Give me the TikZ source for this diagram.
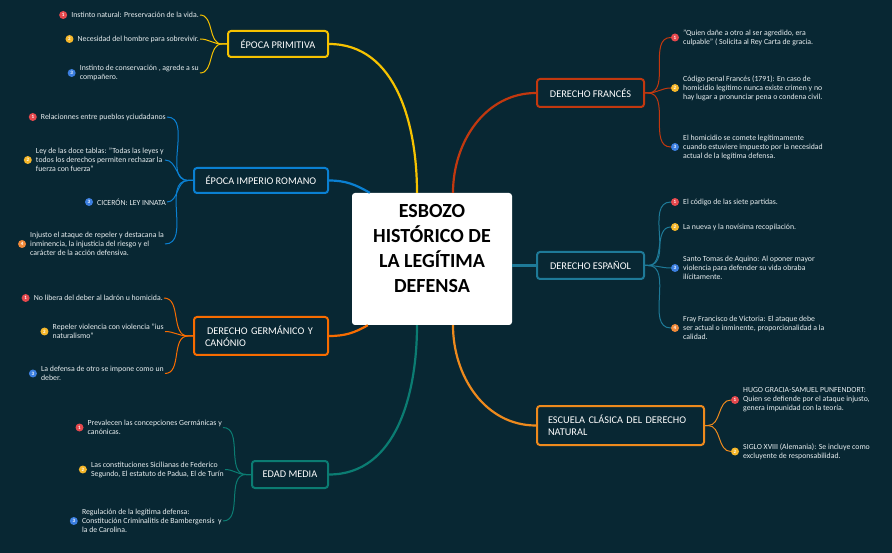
\documentclass[tikz,border=0pt]{standalone}
\usepackage{fontspec}
\setmainfont{Carlito}
\definecolor{bg}{HTML}{082733}
\definecolor{txt}{HTML}{E8EEF0}
\definecolor{cY}{HTML}{F6C200}
\definecolor{cB}{HTML}{0A80D2}
\definecolor{cO}{HTML}{F86C00}
\definecolor{cT}{HTML}{0B7C72}
\definecolor{cR}{HTML}{C2380F}
\definecolor{cE}{HTML}{1E7A98}
\definecolor{cK}{HTML}{EE8A1D}
\definecolor{bR}{HTML}{E5484D}
\definecolor{bY}{HTML}{F5B72A}
\definecolor{bB}{HTML}{3C7FE0}
\definecolor{bO}{HTML}{F08A3A}
\tikzset{
  br/.style={draw=#1, line width=2pt, fill=bg, rounded corners=3pt, text=white,
    font=\fontsize{10.3}{12}\selectfont, inner sep=0pt},
  leaf/.style={inner sep=1pt, text=txt, font=\fontsize{7.8}{9}\selectfont, align=left},
  bul/.style={circle, fill=#1, inner sep=0pt, minimum size=8pt, text=white,
    font=\fontsize{5}{5}\selectfont\bfseries},
  mainln/.style={draw=#1, line width=2.2pt},
  leafln/.style={draw=#1, line width=1pt},
}
\begin{document}
\begin{tikzpicture}[x=1pt,y=-1pt]
\useasboundingbox[fill=bg] (0,0) rectangle (892,553);

% center
\node[fill=white, rounded corners=3pt, minimum width=160pt, minimum height=132pt, inner sep=0pt] (c) at (432,259) {};
\node[align=center, font=\bfseries\fontsize{20}{25}\selectfont, inner sep=0pt] (ct) at (432,249) {ESBOZO\\HISTÓRICO DE\\LA LEGÍTIMA\\ DEFENSA};

% branch nodes
\node[br=cY, minimum width=100pt, minimum height=26pt] (pp) at (278,44) {ÉPOCA PRIMITIVA};
\node[br=cB, minimum width=134pt, minimum height=25pt] (rom) at (261,180.5) {ÉPOCA IMPERIO ROMANO};
\node[br=cO, minimum width=134pt, minimum height=38pt, text width=112pt, align=left] (ger) at (261,336) {\hspace{2pt}DERECHO GERMÁNICO Y\\CANÓNIO};
\node[br=cT, minimum width=76pt, minimum height=27pt] (ed) at (290,474.5) {EDAD MEDIA};
\node[br=cR, minimum width=107pt, minimum height=28pt] (fr) at (590.5,93) {DERECHO FRANCÉS};
\node[br=cE, minimum width=107pt, minimum height=27pt] (es) at (590.5,265.5) {DERECHO ESPAÑOL};
\node[br=cK, minimum width=167pt, minimum height=39pt, text width=145pt, align=left] (esc) at (620.5,425.5) {ESCUELA CLÁSICA DEL DERECHO\\NATURAL};

% main connectors
\draw[mainln=cY] (pp.east) to[out=0,in=90] ([xshift=-15pt]c.north);
\draw[mainln=cR] ([xshift=21pt]c.north) to[out=90,in=180] (fr.west);
\draw[mainln=cB] (rom.east) to[out=0,in=150] ([xshift=18pt]c.north west);
\draw[mainln=cO] (ger.east) to[out=0,in=-150] ([xshift=16pt]c.south west);
\draw[mainln=cT] (ed.east) to[out=0,in=-90] ([xshift=-15pt]c.south);
\draw[mainln=cK] ([xshift=21pt]c.south) to[out=-90,in=180] (esc.west);
\draw[mainln=cE] (es.west) -- (es.west -| c.east);

% junctions
\coordinate (ppj) at ([xshift=-5pt]pp.west);
\coordinate (romj) at ([xshift=-5pt]rom.west);
\coordinate (gerj) at ([xshift=-5pt]ger.west);
\coordinate (edj) at ([xshift=-5pt]ed.west);
\coordinate (frj) at ([xshift=3pt]fr.east);
\coordinate (esj) at ([xshift=3pt]es.east);
\coordinate (escj) at ([xshift=3pt]esc.east);

% ÉPOCA PRIMITIVA leaves
\node[leaf, anchor=east] (p1) at (200,15) {Instinto natural: Preservación de la vida.};
\node[leaf, anchor=east] (p2) at (200,39) {Necesidad del hombre para sobrevivir.};
\node[leaf, anchor=east] (p3) at (200,73) {Instinto de conservación , agrede a su\\compañero.};
\node[bul=bR] (p1b) at ([xshift=-7pt]p1.west) {1};
\node[bul=bY] (p2b) at ([xshift=-7pt]p2.west) {2};
\node[bul=bB] (p3b) at ([xshift=-7pt]p3.west) {3};
\foreach \n in {p1,p2,p3}{\draw[leafln=cY] (pp.west) -- (ppj) to[out=180,in=0] (\n.east);}

% ROMANO leaves
\node[leaf, anchor=east] (r1) at (167,117) {Relacionnes entre pueblos yciudadanos};
\node[leaf, anchor=east] (r2) at (165,160) {Ley de las doce tablas: "Todas las leyes y\\todos los derechos permiten rechazar la\\fuerza con fuerza"};
\node[leaf, anchor=east] (r3) at (167,202) {CICERÓN: LEY INNATA};
\node[leaf, anchor=east] (r4) at (165,244) {Injusto el ataque de repeler y destacana la\\inminencia, la injusticia del riesgo y el\\carácter de la acción defensiva.};
\node[bul=bR] (r1b) at ([xshift=-7pt]r1.west) {1};
\node[bul=bY] (r2b) at ([xshift=-7pt]r2.west) {2};
\node[bul=bB] (r3b) at ([xshift=-7pt]r3.west) {3};
\node[bul=bO] (r4b) at ([xshift=-7pt]r4.west) {4};
\foreach \n in {r1,r2,r3,r4}{\draw[leafln=cB] (rom.west) -- (romj) to[out=180,in=0] (\n.east);}

% GERMÁNICO leaves
\node[leaf, anchor=east] (g1) at (164,298) {No libera del deber al ladrón u homicida.};
\node[leaf, anchor=east] (g2) at (165,331.5) {Repeler violencia con violencia "ius\\naturalismo"};
\node[leaf, anchor=east] (g3) at (165,373.5) {La defensa de otro se impone como un\\deber.};
\node[bul=bR] (g1b) at ([xshift=-7pt]g1.west) {1};
\node[bul=bY] (g2b) at ([xshift=-7pt]g2.west) {2};
\node[bul=bB] (g3b) at ([xshift=-7pt]g3.west) {3};
\foreach \n in {g1,g2,g3}{\draw[leafln=cO] (ger.west) -- (gerj) to[out=180,in=0] (\n.east);}

% EDAD MEDIA leaves
\node[leaf, anchor=east] (e1) at (223,427.5) {Prevalecen las concepciones Germánicas y\\canónicas.};
\node[leaf, anchor=east] (e2) at (225,469.5) {Las constituciones Sicilianas de Federico\\Segundo, El estatuto de Padua, El de Turín};
\node[leaf, anchor=east] (e3) at (223,521) {Regulación de la legítima defensa:\\Constitución Criminalitis de Bambergensis\ \ y\\la de Carolina.};
\node[bul=bR] (e1b) at ([xshift=-7pt]e1.west) {1};
\node[bul=bY] (e2b) at ([xshift=-7pt]e2.west) {2};
\node[bul=bB] (e3b) at ([xshift=-7pt]e3.west) {3};
\foreach \n in {e1,e2,e3}{\draw[leafln=cT] (ed.west) -- (edj) to[out=180,in=0] (\n.east);}

% FRANCÉS leaves
\node[leaf, anchor=west] (f1) at (682,37.5) {"Quien dañe a otro al ser agredido, era\\culpable" ( Solicita al Rey Carta de gracia.};
\node[leaf, anchor=west] (f2) at (682,88) {Código penal Francés (1791): En caso de\\homicidio legítimo nunca existe crimen y no\\hay lugar a pronunciar pena o condena civil.};
\node[leaf, anchor=west] (f3) at (682,147) {El homicidio se comete legítimamente\\cuando estuviere impuesto por la necesidad\\actual de la legítima defensa.};
\node[bul=bR] (f1b) at ([xshift=-7pt]f1.west) {1};
\node[bul=bY] (f2b) at ([xshift=-7pt]f2.west) {2};
\node[bul=bB] (f3b) at ([xshift=-7pt]f3.west) {3};
\foreach \n in {f1b,f2b,f3b}{\draw[leafln=cR] (fr.east) -- (frj) to[out=0,in=180] (\n.west);}

% ESPAÑOL leaves
\node[leaf, anchor=west] (s1) at (682,202) {El código de las siete partidas.};
\node[leaf, anchor=west] (s2) at (682,227) {La nueva y la novísima recopilación.};
\node[leaf, anchor=west] (s3) at (682,268) {Santo Tomas de Aquino: Al oponer mayor\\violencia para defender su vida obraba\\ilícitamente.};
\node[leaf, anchor=west] (s4) at (682,328) {Fray Francisco de Victoria: El ataque debe\\ser actual o inminente, proporcionalidad a la\\calidad.};
\node[bul=bR] (s1b) at ([xshift=-7pt]s1.west) {1};
\node[bul=bY] (s2b) at ([xshift=-7pt]s2.west) {2};
\node[bul=bB] (s3b) at ([xshift=-7pt]s3.west) {3};
\node[bul=bO] (s4b) at ([xshift=-7pt]s4.west) {4};
\foreach \n in {s1b,s2b,s3b,s4b}{\draw[leafln=cE] (es.east) -- (esj) to[out=0,in=180] (\n.west);}

% ESCUELA leaves
\node[leaf, anchor=west] (k1) at (742,400) {HUGO GRACIA-SAMUEL PUNFENDORT:\\Quien se defiende por el ataque injusto,\\genera impunidad con la teoría.};
\node[leaf, anchor=west] (k2) at (742,451.5) {SIGLO XVIII (Alemania): Se incluye como\\excluyente de responsabilidad.};
\node[bul=bR] (k1b) at ([xshift=-7pt]k1.west) {1};
\node[bul=bY] (k2b) at ([xshift=-7pt]k2.west) {2};
\foreach \n in {k1b,k2b}{\draw[leafln=cK] (esc.east) -- (escj) to[out=0,in=180] (\n.west);}
\end{tikzpicture}
\end{document}
